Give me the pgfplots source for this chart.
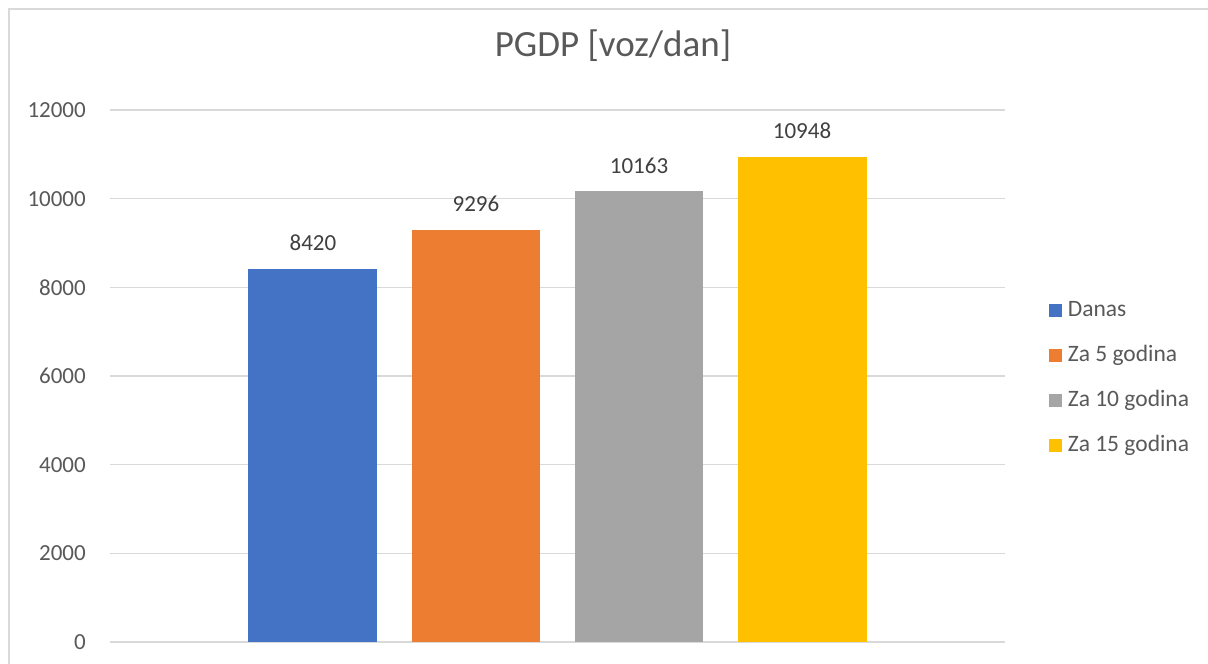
\documentclass[border=0pt]{standalone}
\usepackage{fontspec}
\setmainfont{Carlito}
\usepackage{pgfplots}
\pgfplotsset{compat=1.18}
\definecolor{cblue}{HTML}{4472C4}
\definecolor{corange}{HTML}{ED7D31}
\definecolor{cgray}{HTML}{A5A5A5}
\definecolor{cgold}{HTML}{FFC000}
\definecolor{txt}{HTML}{595959}
\definecolor{lbl}{HTML}{404040}
\definecolor{gridc}{HTML}{D9D9D9}
\pgfplotsset{
  mybar/.style={ybar, bar shift=0pt, draw=none, fill=#1,
    legend image code/.code={\fill[fill=#1,draw=none] (0pt,-6.5pt) rectangle (13pt,6.5pt);}},
}
\begin{document}
\begin{tikzpicture}
\path[use as bounding box] (0pt,0pt) rectangle (1208pt,664pt);
\fill[white] (0pt,0pt) rectangle (1208pt,664pt);
\draw[gridc, line width=1.5pt] (9pt,-5pt) -- (9pt,655pt) -- (1208pt,655pt);
\begin{axis}[
  at={(110pt,22pt)}, anchor=south west,
  scale only axis, width=895pt, height=532pt,
  xmin=-0.245, xmax=5.245, ymin=0, ymax=12000,
  ytick={0,2000,4000,6000,8000,10000,12000},
  xtick=\empty,
  scaled y ticks=false,
  axis line style={draw=none},
  tick style={draw=none},
  ymajorgrids, grid style={draw=gridc, line width=1.3pt},
  yticklabel style={font=\fontsize{23}{26}\selectfont, text=txt, inner sep=0pt, xshift=-24pt,
    /pgf/number format/1000 sep={}, /pgf/number format/assume math mode=true},
  bar width=0.791,
  nodes near coords,
  every node near coord/.append style={font=\fontsize{23}{26}\selectfont, text=lbl, inner sep=0pt, yshift=18pt,
    /pgf/number format/1000 sep={}, /pgf/number format/assume math mode=true},
  title={PGDP [voz/dan]},
  title style={at={(0.562,1.0902)}, anchor=base, font=\fontsize{37}{42}\selectfont, text=txt, inner sep=0pt},
  legend style={at={(1.049,0.497)}, anchor=west, draw=none, fill=none, inner sep=0pt, outer sep=0pt,
    font=\fontsize{23.5}{26}\selectfont, text=txt,
    nodes={inner sep=0pt, text height=17pt, text depth=5pt},
    row sep=23pt, column sep=6pt},
  legend cell align=left,
]
\addplot[mybar=cblue] coordinates {(1,8420)};
\addplot[mybar=corange] coordinates {(2,9296)};
\addplot[mybar=cgray] coordinates {(3,10163)};
\addplot[mybar=cgold] coordinates {(4,10948)};
\legend{Danas, Za 5 godina, Za 10 godina, Za 15 godina}
\end{axis}
\end{tikzpicture}
\end{document}
